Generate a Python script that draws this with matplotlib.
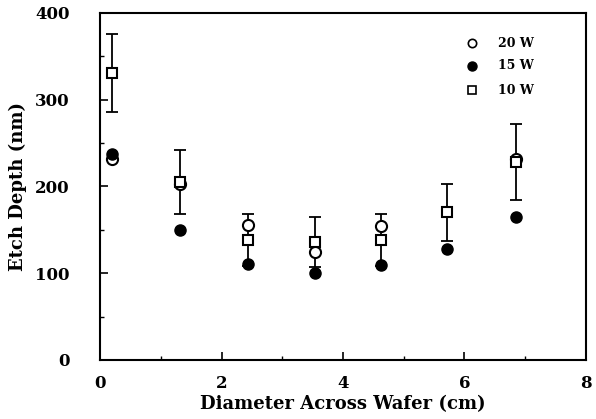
import matplotlib.pyplot as plt
from matplotlib.ticker import MultipleLocator

# posiciones a lo largo del diametro (cm)
x = [0.2, 1.32, 2.44, 3.54, 4.63, 5.72, 6.85]
# profundidad de grabado (nm) para cada potencia
w20 = [232, 203, 155, 124, 154, None, 232]
w15 = [237, 150, 111, 100, 109, 128, 165]
w10 = [331, 205, 138, 136, 138, 170, 228]
err10 = [45, 37, 30, 29, 30, 33, 44]

plt.rcParams['font.family'] = ['DejaVu Serif']
plt.rcParams['font.weight'] = 'bold'

fig = plt.figure(figsize=(5.96, 4.19), dpi=100)
ax = fig.add_axes([0.168, 0.141, 0.815, 0.828])

x20 = [a for a, b in zip(x, w20) if b is not None]
y20 = [b for b in w20 if b is not None]

ax.errorbar(x, w10, yerr=err10, fmt='none', ecolor='black', elinewidth=1.3,
            capsize=4, capthick=1.3, zorder=1)
ax.plot(x20, y20, 'o', mfc='white', mec='black', mew=1.5, ms=8, zorder=2)
ax.plot(x, w15, 'o', mfc='black', mec='black', ms=8, zorder=3)
ax.plot(x, w10, 's', mfc='white', mec='black', mew=1.5, ms=7.5, zorder=4)

# leyenda hecha a mano
ax.plot([6.13], [365], 'o', mfc='white', mec='black', mew=1.2, ms=6, clip_on=False)
ax.plot([6.13], [339], 'o', mfc='black', mec='black', ms=6.5, clip_on=False)
ax.plot([6.13], [311], 's', mfc='white', mec='black', mew=1.2, ms=6, clip_on=False)
ax.text(6.55, 365, '20 W', fontsize=9, fontweight='bold', va='center')
ax.text(6.55, 339, '15 W', fontsize=9, fontweight='bold', va='center')
ax.text(6.55, 311, '10 W', fontsize=9, fontweight='bold', va='center')

ax.set_xlim(0, 8)
ax.set_ylim(0, 400)
ax.xaxis.set_major_locator(MultipleLocator(2))
ax.xaxis.set_minor_locator(MultipleLocator(1))
ax.yaxis.set_major_locator(MultipleLocator(100))
ax.yaxis.set_minor_locator(MultipleLocator(50))
ax.tick_params(which='both', direction='in', labelsize=12)
ax.tick_params(which='major', length=6, width=1.2)
ax.tick_params(which='minor', length=3, width=1.0)
ax.tick_params(axis='x', pad=11)
ax.tick_params(axis='y', pad=22)
for s in ax.spines.values():
    s.set_linewidth(1.5)

ax.set_xlabel('Diameter Across Wafer (cm)', fontsize=13, fontweight='bold', labelpad=2)
ax.set_ylabel('Etch Depth (nm)', fontsize=13, fontweight='bold', labelpad=6)

fig.savefig('out.png', dpi=100)
